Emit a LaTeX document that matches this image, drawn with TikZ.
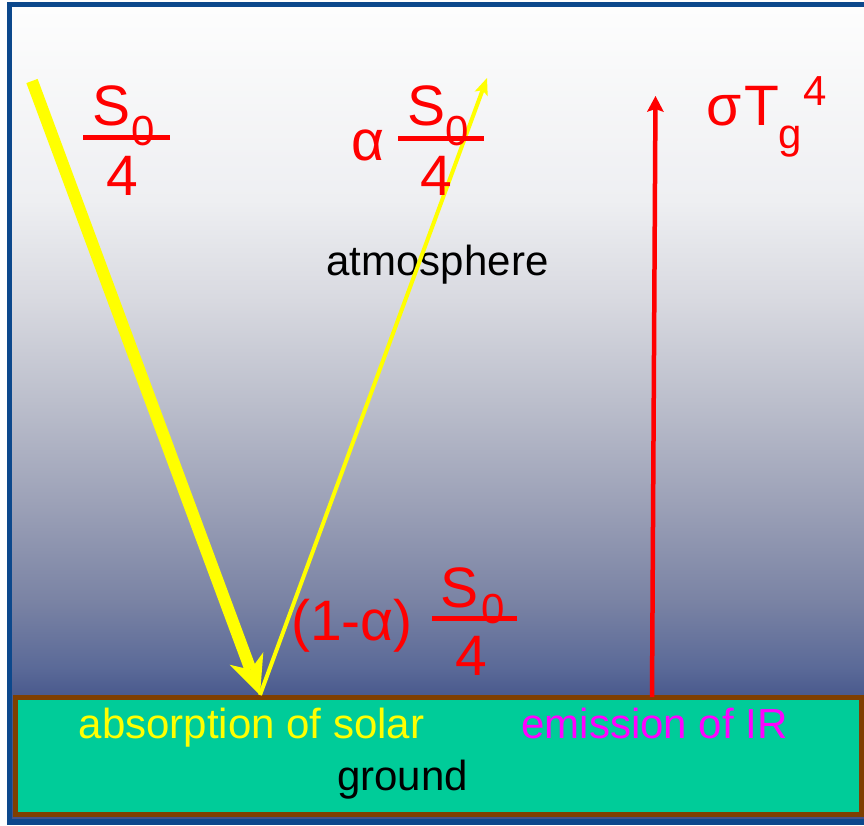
\documentclass[tikz,border=0pt]{standalone}
\usepackage{fontspec}
\setmainfont{Liberation Sans}
\usepackage{xcolor}
\usetikzlibrary{arrows.meta, positioning}

\definecolor{framecol}{RGB}{12,72,140}
\definecolor{groundcol}{RGB}{0,204,153}
\definecolor{soilcol}{RGB}{127,63,0}
\definecolor{rayyellow}{RGB}{255,255,0}
\definecolor{irmagenta}{RGB}{255,0,255}
\definecolor{labred}{RGB}{255,0,0}
\definecolor{skyA}{RGB}{66,82,136}
\definecolor{skyB}{RGB}{75,91,142}
\definecolor{skyC}{RGB}{91,106,152}
\definecolor{skyD}{RGB}{122,131,164}
\definecolor{skyE}{RGB}{157,162,184}
\definecolor{skyF}{RGB}{188,191,204}
\definecolor{skyG}{RGB}{216,217,224}
\definecolor{skyH}{RGB}{238,239,242}
\definecolor{skyI}{RGB}{253,253,253}

\pgfdeclareverticalshading{skyfade}{100bp}{color(0bp)=(skyA); color(25bp)=(skyA);
  color(32.7bp)=(skyB); color(34.3bp)=(skyC); color(38.4bp)=(skyD);
  color(44.6bp)=(skyE); color(50.8bp)=(skyF); color(56.9bp)=(skyG);
  color(63.1bp)=(skyH); color(75bp)=(skyI); color(100bp)=(skyI)}

\begin{document}
\begin{tikzpicture}[
    x=1pt, y=-1pt,
    txt/.style={inner sep=0pt, font=\fontsize{42}{48}\selectfont},
    bigsym/.style={inner sep=0pt, text=labred, font=\fontsize{57}{62}\selectfont, anchor=base west},
    smallsym/.style={inner sep=0pt, text=labred, font=\fontsize{42}{48}\selectfont, anchor=base west},
    fracbar/.style={labred, line width=5pt},
    sunray/.style={rayyellow, line width=12pt,
                   -{Stealth[length=39pt, width=36pt, inset=12pt, line width=0pt]}},
    reflray/.style={rayyellow, line width=4pt,
                    -{Stealth[length=17pt, width=14pt, inset=4pt, line width=0pt]}},
    irray/.style={labred, line width=4.5pt,
                  -{Stealth[length=16pt, width=17pt, inset=3pt, line width=0pt]}},
  ]
    \useasboundingbox (0,0) rectangle (864,825);

    % ── Frame and sky ────────────────────────────
    \fill[white] (0,0) rectangle (864,825);
    \fill[framecol] (7,2) rectangle (864,825);
    \shade[shading=skyfade] (12,7) rectangle (864,818);

    % ── Ground ───────────────────────────────────
    \draw[soilcol, fill=groundcol, line width=5pt] (15.5,697.5) rectangle (861.5,814.5);
    \node[txt, text=rayyellow, anchor=base] (absorb) at (251.5,738) {absorption of solar};
    \node[txt, text=irmagenta, anchor=base] (emit) at (654.5,738) {emission of IR};
    \node[txt, anchor=base] (ground) at (402.5,790) {ground};
    \node[txt, anchor=base] (atmos) at (437.5,275) {atmosphere};

    % ── Rays ─────────────────────────────────────
    \coordinate (sunin) at (32,81);
    \coordinate (hit) at (260,695);
    \coordinate (reflout) at (487,78);
    \coordinate (irfoot) at (652,697);
    \coordinate (irtop) at (655.5,96);
    \draw[reflray] (hit) -- (reflout);
    \draw[sunray] (sunin) -- (hit);
    \draw[irray] (irfoot) -- (irtop);

    % ── Incoming S0/4 ────────────────────────────
    \draw[fracbar] (83,137) -- (170,137);
    \node[bigsym] (inS) at (92.5,125) {S};
    \node[smallsym] (inzero) at (131.5,145) {0};
    \node[bigsym] (infour) at (106.5,195) {4};

    % ── Reflected alpha S0/4 ─────────────────────
    \draw[fracbar] (398,138) -- (484,138);
    \node[bigsym] (refalpha) at (351,160) {α};
    \node[bigsym] (refS) at (407.5,125) {S};
    \node[smallsym] (refzero) at (445.5,145) {0};
    \node[bigsym] (reffour) at (420.5,195) {4};

    % ── Absorbed (1-alpha) S0/4 ──────────────────
    \draw[fracbar] (432,618) -- (517,618);
    \node[bigsym] (absfac) at (291,640) {(1-α)};
    \node[bigsym] (absS) at (440.5,607) {S};
    \node[smallsym] (abszero) at (481.5,623) {0};
    \node[bigsym] (absfour) at (455.5,675) {4};

    % ── Emitted sigma Tg^4 ───────────────────────
    \node[bigsym] (emsigma) at (706,125) {σ};
    \node[bigsym] (emT) at (744,125) {T};
    \node[smallsym] (emg) at (778.5,148) {g};
    \node[smallsym] (emfour) at (803,105) {4};
  \end{tikzpicture}
\end{document}
